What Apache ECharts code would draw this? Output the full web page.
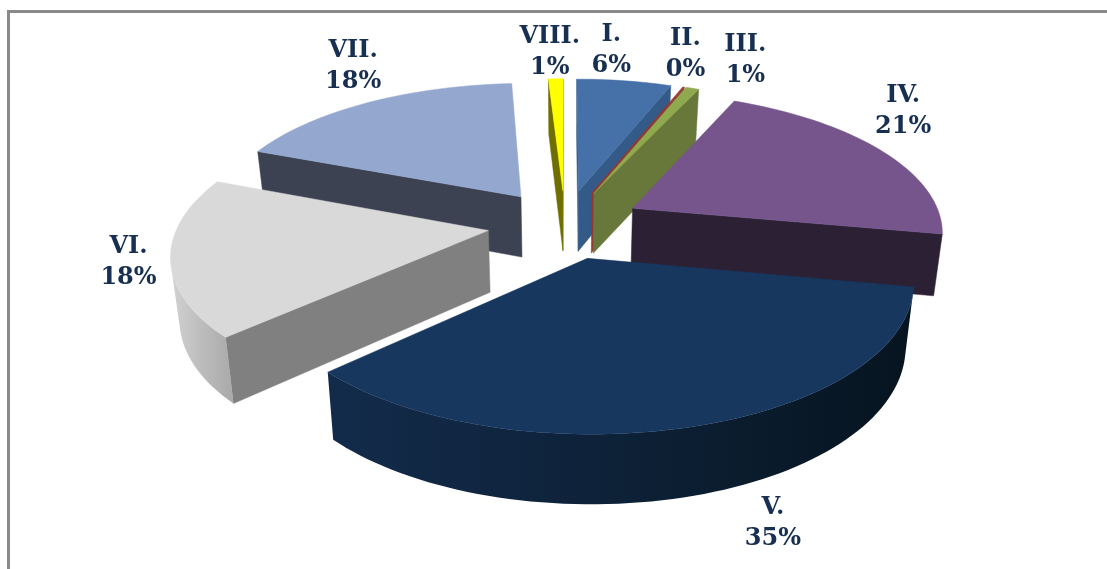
<!DOCTYPE html>
<html>
<head>
<meta charset="utf-8">
<style>
  html, body { margin: 0; padding: 0; background: #fff; }
  #chart { width: 1107px; height: 569px; }
</style>
</head>
<body>
<div id="chart"></div>
<script src="https://cdn.jsdelivr.net/npm/echarts@6/dist/echarts.min.js"></script>
<script>
// data
var categories = ['I.', 'II.', 'III.', 'IV.', 'V.', 'VI.', 'VII.', 'VIII.'];
var shares = [5.8, 0.1, 0.8, 21.3, 35, 18, 18.1, 0.9];

// look
var topColors = ['#4571a8', '#953735', '#8fa94f', '#75558c', '#17375e', '#d9d9d9', '#94a8cf', '#ffff00'];
var cutColors = ['#345a87', '#953735', '#67783a', '#2c2035', '#0f2540', '#808080', '#3c4252', '#6f6f00'];
var wallStops = {
  4: ['#132b4b', '#0d2137', '#06141f'],
  5: ['#d2d2d2', '#bcbcbc', '#a9a9a9']
};
// label offset from the outer middle of each slice
var labelOffsets = [[-13, -31], [2, -33], [53, -28], [22, -39], [76, 97], [-42, 5], [-15, -36], [-6, -27]];
// back slices first so the front ones cover them
var drawOrder = [7, 6, 5, 0, 1, 2, 3, 4];

// pie geometry (plan view -> screen)
var CX = 565, CY = 224, RX = 310, RY = 138, PERSP = 0.15, EXPLODE = 0.25, DEPTH = 61.4, BOTTOM_SCALE = 0.977;

var total = shares.reduce(function (a, b) { return a + b; }, 0);
var starts = [];
shares.reduce(function (acc, v, i) { starts[i] = acc; return acc + v; }, 0);

function toAngle(v) {
  return v / total * Math.PI * 2;
}
function project(x, y) {
  var w = 1 + PERSP * y;
  return { x: CX + RX * x / w, y: CY - RY * y / w, w: w };
}
function lower(p) {
  return [CX + (p.x - CX) * BOTTOM_SCALE, p.y + DEPTH / Math.pow(p.w, 0.64)];
}
function faces(i) {
  var a0 = toAngle(starts[i]), a1 = toAngle(starts[i] + shares[i]), mid = (a0 + a1) / 2;
  var ox = EXPLODE * Math.sin(mid), oy = EXPLODE * Math.cos(mid);
  var steps = Math.max(2, Math.ceil((a1 - a0) / 0.03));
  var arc = [];
  for (var s = 0; s <= steps; s++) {
    var a = a0 + (a1 - a0) * s / steps;
    arc.push(project(ox + Math.sin(a), oy + Math.cos(a)));
  }
  return { apex: project(ox, oy), arc: arc, mid: mid };
}
function edgeVisible(p, q) {
  var b = lower(p);
  return (q.x - p.x) * (b[1] - p.y) - (q.y - p.y) * (b[0] - p.x) < 0;
}
function quad(p, q, fill) {
  return {
    type: 'polygon',
    shape: { points: [[p.x, p.y], [q.x, q.y], lower(q), lower(p)] },
    style: { fill: fill, stroke: fill, lineWidth: 0.5 }
  };
}

function renderSlice(params, api) {
  var i = api.value(0);
  var f = faces(i), children = [];
  var first = f.arc[0], last = f.arc[f.arc.length - 1];

  if (edgeVisible(f.apex, first)) children.push(quad(f.apex, first, cutColors[i]));
  if (edgeVisible(last, f.apex)) children.push(quad(last, f.apex, cutColors[i]));

  // curved wall, only the part facing the viewer
  var upper = [], under = [];
  for (var k = 0; k < f.arc.length - 1; k++) {
    if (edgeVisible(f.arc[k], f.arc[k + 1])) {
      if (!upper.length) { upper.push([f.arc[k].x, f.arc[k].y]); under.push(lower(f.arc[k])); }
      upper.push([f.arc[k + 1].x, f.arc[k + 1].y]);
      under.push(lower(f.arc[k + 1]));
    }
  }
  if (upper.length) {
    var stops = wallStops[i] || [cutColors[i], cutColors[i], cutColors[i]];
    var grad = new echarts.graphic.LinearGradient(0, 0, 1, 0, [
      { offset: 0, color: stops[0] },
      { offset: 0.5, color: stops[1] },
      { offset: 1, color: stops[2] }
    ]);
    children.push({
      type: 'polygon',
      shape: { points: upper.concat(under.reverse()) },
      style: { fill: grad }
    });
  }

  var topPts = [[f.apex.x, f.apex.y]].concat(f.arc.map(function (p) { return [p.x, p.y]; }));
  children.push({
    type: 'polygon',
    shape: { points: topPts },
    style: { fill: topColors[i], stroke: topColors[i], lineWidth: 0.5 }
  });

  var outer = project((1 + EXPLODE) * Math.sin(f.mid), (1 + EXPLODE) * Math.cos(f.mid));
  children.push({
    type: 'text',
    z2: 100,
    x: outer.x + labelOffsets[i][0],
    y: outer.y + labelOffsets[i][1],
    style: {
      text: categories[i] + '\n' + Math.round(shares[i]) + '%',
      fill: '#172f50',
      font: 'bold 24px "DejaVu Serif"',
      lineHeight: 31,
      align: 'center',
      verticalAlign: 'middle'
    }
  });
  return { type: 'group', children: children };
}

var myChart = echarts.init(document.getElementById('chart'), null, { renderer: 'canvas' });
myChart.setOption({
  animation: false,
  backgroundColor: '#fff',
  graphic: [{
    type: 'polyline',
    silent: true,
    shape: { points: [[8.5, 569], [8.5, 11.5], [1107, 11.5]] },
    style: { stroke: '#8a8a8a', lineWidth: 3, fill: 'none' }
  }],
  series: [{
    type: 'custom',
    coordinateSystem: 'none',
    renderItem: renderSlice,
    data: drawOrder.map(function (i) { return [i]; })
  }]
});
</script>
</body>
</html>
